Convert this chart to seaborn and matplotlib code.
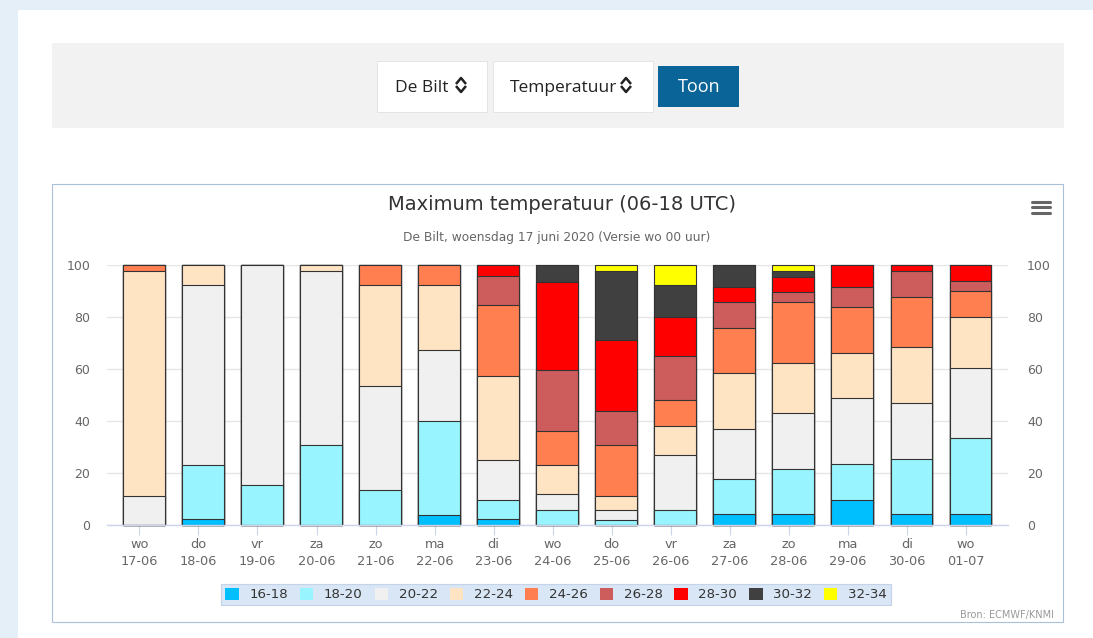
import numpy as np
import pandas as pd
import matplotlib
matplotlib.use("Agg")
import matplotlib.pyplot as plt
from matplotlib.patches import Rectangle, Patch
from matplotlib.lines import Line2D
import seaborn as sns

# ---------------- data ----------------
days = ["wo\n17-06", "do\n18-06", "vr\n19-06", "za\n20-06", "zo\n21-06",
        "ma\n22-06", "di\n23-06", "wo\n24-06", "do\n25-06", "vr\n26-06",
        "za\n27-06", "zo\n28-06", "ma\n29-06", "di\n30-06", "wo\n01-07"]

bins = ["16-18", "18-20", "20-22", "22-24", "24-26", "26-28", "28-30", "30-32", "32-34"]
colors = ["#00bfff", "#98f5ff", "#f0f0f0", "#ffe4c4", "#ff7f50",
          "#cd5c5c", "#ff0000", "#404040", "#ffff00"]

t16_18 = [0, 2.3, 0, 0, 0, 3.8, 2.3, 0, 0, 0, 4.2, 4.2, 9.9, 4.2, 4.2]
t18_20 = [0, 20.9, 15.6, 30.9, 13.6, 36.5, 7.6, 5.9, 2.0, 5.9, 13.5, 17.3, 13.8, 21.2, 29.3]
t20_22 = [11.4, 69.1, 84.4, 66.9, 40.1, 27.0, 15.1, 6.0, 4.0, 21.1, 19.5, 21.6, 25.4, 21.5, 27.0]
t22_24 = [86.4, 7.7, 0, 2.2, 38.6, 25.0, 32.6, 11.4, 5.4, 11.3, 21.5, 19.5, 17.3, 21.6, 19.8]
t24_26 = [2.2, 0, 0, 0, 7.7, 7.7, 27.0, 13.0, 19.4, 9.9, 17.3, 23.2, 17.7, 19.4, 9.8]
t26_28 = [0, 0, 0, 0, 0, 0, 11.4, 23.3, 13.2, 16.8, 9.8, 3.8, 7.7, 9.8, 3.7]
t28_30 = [0, 0, 0, 0, 0, 0, 4.0, 34.1, 27.2, 15.3, 5.7, 5.9, 8.2, 2.3, 6.2]
t30_32 = [0, 0, 0, 0, 0, 0, 0, 6.3, 26.6, 12.0, 8.5, 2.3, 0, 0, 0]
t32_34 = [0, 0, 0, 0, 0, 0, 0, 0, 2.2, 7.7, 0, 2.2, 0, 0, 0]

y_ticks = [0, 20, 40, 60, 80, 100]

title = "Maximum temperatuur (06-18 UTC)"
subtitle = "De Bilt, woensdag 17 juni 2020 (Versie wo 00 uur)"
credit = "Bron: ECMWF/KNMI"

# ---------------- setup ----------------
sns.set_theme(style="white")
plt.rcParams["font.family"] = ["DejaVu Sans"]

W, H = 1093, 638
fig = plt.figure(figsize=(W / 100, H / 100), dpi=100)
fig.patch.set_facecolor("#e5eff8")


def fx(px):
    return px / W


def fy(py):
    return (H - py) / H


def box(x0, y0, x1, y1, fc, ec="none", lw=0.0, z=-10):
    r = Rectangle((fx(x0), fy(y1)), fx(x1) - fx(x0), fy(y0) - fy(y1),
                  transform=fig.transFigure, facecolor=fc, edgecolor=ec,
                  linewidth=lw, zorder=z)
    fig.patches.append(r)


# page elements
box(18, 10, 1093 + 2, 640, "#ffffff", z=-12)
box(52, 43, 1064, 128, "#f2f2f2", z=-11)
box(377, 61, 487, 112, "#ffffff", "#e4e4e4", 0.7)
box(493, 61, 653, 112, "#ffffff", "#e4e4e4", 0.7)
box(658, 66, 739, 107, "#0b6497")
fig.text(fx(395), fy(92), "De Bilt", family="Open Sans", fontsize=12.5,
         color="#222222", va="baseline", ha="left")
fig.text(fx(510), fy(92), "Temperatuur", family="Open Sans", fontsize=12.5,
         color="#222222", va="baseline", ha="left")
fig.text(fx(699), fy(92), "Toon", family="Open Sans", fontsize=13,
         color="#ffffff", va="baseline", ha="center")


def chevrons(xc):
    for (ya, yb) in [(84, 78), (86, 92)]:
        fig.add_artist(Line2D([fx(xc - 5), fx(xc), fx(xc + 5)],
                              [fy(ya), fy(yb), fy(ya)],
                              transform=fig.transFigure, color="#222222",
                              lw=1.8, solid_capstyle="butt"))


chevrons(461)
chevrons(626)

# chart container
box(52, 184, 1063, 622, "#ffffff", "#aabfd8", 0.8, z=-9)

# hamburger icon
for yy in (202, 207.5, 213):
    fig.add_artist(Line2D([fx(1032), fx(1050)], [fy(yy), fy(yy)],
                          transform=fig.transFigure, color="#666666", lw=2.2,
                          solid_capstyle="round"))

fig.text(fx(562), fy(210), title, fontsize=14, color="#333333",
         ha="center", va="baseline")
fig.text(fx(557), fy(241), subtitle, fontsize=8.8, color="#666666",
         ha="center", va="baseline")
fig.text(fx(1054), fy(618), credit, fontsize=7, color="#999999",
         ha="right", va="baseline")

# ---------------- chart ----------------
ax = fig.add_axes([fx(107), fy(525.3), (1007.7 - 107) / W, 260 / H])
ax.set_facecolor("none")

series = [t16_18, t18_20, t20_22, t22_24, t24_26, t26_28, t28_30, t30_32, t32_34]
df = pd.DataFrame({b: s for b, s in zip(bins, series)})
df["day"] = days
cum = df[bins].cumsum(axis=1)
cum["day"] = days

# draw cumulative bars from the top bin downwards (stacked look)
for b, c in reversed(list(zip(bins, colors))):
    sns.barplot(data=cum, x="day", y=b, order=days, color=c, saturation=1,
                edgecolor="#333333", linewidth=0.8, width=0.71,
                errorbar=None, ax=ax)

for p in ax.patches:
    p.set_clip_on(False)

ax.set_xlabel("")
ax.set_ylabel("")
ax.set_xlim(-0.627, 14.63)
ax.set_ylim(0, 100)
ax.set_axisbelow(True)
ax.yaxis.grid(True, color="#e6e6e6", lw=1)
ax.xaxis.grid(False)
for s in ["top", "right", "left"]:
    ax.spines[s].set_visible(False)
ax.spines["bottom"].set_color("#ccd6eb")
ax.spines["bottom"].set_linewidth(1)

ax.set_xticks(np.arange(len(days)) - 0.078)
ax.set_xticklabels(days, fontsize=9.3, color="#666666", linespacing=1.4)
ax.tick_params(axis="x", bottom=True, length=7.5, width=0.8, color="#ccd6eb",
               pad=2)

ax.set_yticks(y_ticks)
ax.set_yticklabels([str(v) for v in y_ticks], fontsize=9, color="#666666")
ax.tick_params(axis="y", left=False, length=0, pad=12.2)

ax2 = ax.twinx()
ax2.set_ylim(0, 100)
ax2.set_yticks(y_ticks)
ax2.set_yticklabels([str(v) for v in y_ticks], fontsize=9, color="#666666")
ax2.tick_params(axis="y", right=False, length=0, pad=13.9)
ax2.grid(False)
for s in ax2.spines.values():
    s.set_visible(False)

# legend
handles = [Patch(facecolor=c, edgecolor="none", label=b) for b, c in zip(bins, colors)]
leg = fig.legend(handles=handles, loc="center", ncol=9,
                 bbox_to_anchor=(fx(556), fy(594.5)),
                 fontsize=9.6, frameon=True, fancybox=False,
                 handlelength=1.0, handleheight=1.05, handletextpad=0.8,
                 columnspacing=0.9, borderpad=0.3)
leg.get_frame().set_facecolor("#d9e6f5")
leg.get_frame().set_edgecolor("#c3d3ea")
leg.get_frame().set_linewidth(0.8)
leg.get_frame().set_alpha(1)
for t in leg.get_texts():
    t.set_color("#333333")

fig.savefig("out.png", dpi=100, facecolor=fig.get_facecolor())
